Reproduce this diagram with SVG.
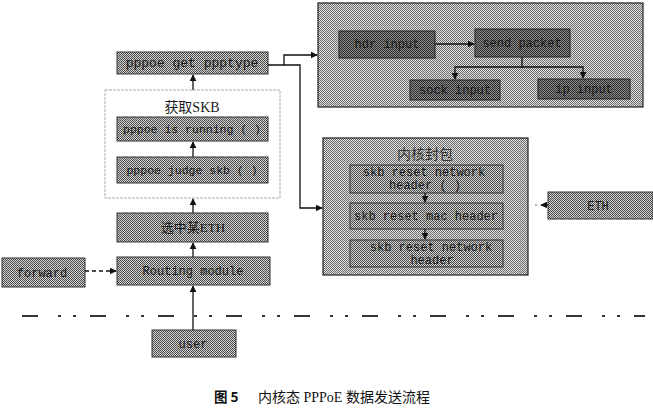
<svg xmlns="http://www.w3.org/2000/svg" width="653" height="411" viewBox="0 0 653 411">
<defs>
<pattern id="pMid" width="2" height="2" patternUnits="userSpaceOnUse">
<rect width="2" height="2" fill="#d4d4d4"/>
<rect x="0" y="0" width="1" height="1" fill="#4a4a4a"/>
<rect x="1" y="1" width="1" height="1" fill="#4a4a4a"/>
</pattern>
<pattern id="pLight" width="2" height="2" patternUnits="userSpaceOnUse">
<rect width="2" height="2" fill="#e2e2e2"/>
<rect x="0" y="0" width="1" height="1" fill="#6a6a6a"/>
<rect x="1" y="1" width="1" height="1" fill="#6a6a6a"/>
</pattern>
<pattern id="pDark" width="2" height="2" patternUnits="userSpaceOnUse">
<rect width="2" height="2" fill="#8a8a8a"/>
<rect x="0" y="0" width="1" height="1" fill="#2e2e2e"/>
<rect x="1" y="1" width="1" height="1" fill="#2e2e2e"/>
</pattern>
<marker id="ah" viewBox="0 0 10 10" refX="9" refY="5" markerWidth="7" markerHeight="7" orient="auto" markerUnits="userSpaceOnUse">
<path d="M0,0 L10,5 L0,10 z" fill="#111"/>
</marker>
<style>
.box{fill:url(#pMid);stroke:#333;stroke-width:1}
.panel{fill:url(#pLight);stroke:#222;stroke-width:1.2}
.dbox{fill:url(#pDark);stroke:#222;stroke-width:1}
.ibox{fill:url(#pMid);stroke:#333;stroke-width:1}
.t{font-family:"Liberation Mono",monospace;font-size:12px;fill:#1a1a1a;text-anchor:middle}
.ts{font-family:"Liberation Serif","Noto Sans CJK SC",serif;font-size:14px;fill:#1a1a1a;text-anchor:middle}
.c{fill:none;stroke:#111;stroke-width:1.3}
</style>
</defs>
<rect width="653" height="411" fill="#fff"/>

<g id="skb-group">
<rect x="105" y="90" width="175" height="108" fill="#fff" stroke="#aaa" stroke-width="1" stroke-dasharray="3 1"/>
<text class="ts" x="192" y="112">获取SKB</text>
</g>
<g id="pppoe-get-ppptype">
<rect class="box" x="117" y="52" width="151" height="22"/>
<text class="t" x="192" y="67" style="font-size:13px">pppoe get ppptype</text>
</g>
<g id="pppoe-is-running">
<rect class="box" x="117" y="117" width="151" height="24"/>
<text class="t" x="192" y="133" style="font-size:11.5px">pppoe is running ( )</text>
</g>
<g id="pppoe-judge-skb">
<rect class="box" x="117" y="157" width="151" height="26"/>
<text class="t" x="192" y="174" style="font-size:11.5px">pppoe judge skb ( )</text>
</g>
<g id="select-eth">
<rect class="box" x="117" y="213" width="151" height="29"/>
<text class="ts" x="193" y="232" style="font-size:13px">选中某ETH</text>
</g>
<g id="routing-module">
<rect class="box" x="117" y="257" width="153" height="28"/>
<text class="t" x="193" y="275">Routing module</text>
</g>
<g id="forward">
<rect class="box" x="2" y="258" width="83" height="29"/>
<text class="t" x="42" y="277">forward</text>
</g>
<g id="user">
<rect class="box" x="152" y="330" width="84" height="27"/>
<text class="t" x="193" y="348">user</text>
</g>

<g id="top-panel">
<rect class="panel" x="318" y="3" width="325" height="104"/>
</g>
<g id="hdr-input">
<rect class="dbox" x="339" y="31" width="96" height="27"/>
<text class="t" x="387" y="48">hdr input</text>
</g>
<g id="send-packet">
<rect class="dbox" x="475" y="29" width="95" height="28"/>
<text class="t" x="522" y="47">send packet</text>
</g>
<g id="sock-input">
<rect class="dbox" x="410" y="80" width="90" height="20"/>
<text class="t" x="455" y="94">sock input</text>
</g>
<g id="ip-input">
<rect class="dbox" x="538" y="79" width="92" height="20"/>
<text class="t" x="584" y="93">ip input</text>
</g>

<g id="kernel-panel">
<rect class="panel" x="323" y="138" width="205" height="137"/>
<text class="ts" x="425" y="159" style="fill:#333">内核封包</text>
</g>
<g id="skb-reset-network-header-1">
<rect class="ibox" x="350" y="165" width="153" height="28"/>
<text class="t" x="424" y="176">skb reset network</text>
<text class="t" x="425" y="189">header ( )</text>
</g>
<g id="skb-reset-mac-header">
<rect class="ibox" x="350" y="203" width="153" height="26"/>
<text class="t" x="426" y="220">skb reset mac header</text>
</g>
<g id="skb-reset-network-header-2">
<rect class="ibox" x="350" y="240" width="153" height="27"/>
<text class="t" x="431" y="251">skb reset network</text>
<text class="t" x="432" y="264">header</text>
</g>
<g id="eth">
<rect class="box" x="548" y="192" width="105" height="27"/>
<text class="t" x="598" y="210">ETH</text>
</g>

<g id="connectors">
<line class="c" x1="193" y1="90" x2="193" y2="75" marker-end="url(#ah)"/>
<line class="c" x1="193" y1="157" x2="193" y2="142" marker-end="url(#ah)"/>
<line class="c" x1="193" y1="213" x2="193" y2="199" marker-end="url(#ah)"/>
<line class="c" x1="193" y1="257" x2="193" y2="243" marker-end="url(#ah)"/>
<line class="c" x1="193" y1="330" x2="193" y2="286" stroke-width="1.6" marker-end="url(#ah)"/>
<line class="c" x1="85" y1="271" x2="116" y2="271" stroke-dasharray="4 3" marker-end="url(#ah)"/>
<polyline class="c" points="268,65 284,65 284,55 317,55" stroke-width="1.6" marker-end="url(#ah)"/>
<polyline class="c" points="284,65 300,65 300,208 322,208" stroke-width="1.6" marker-end="url(#ah)"/>
<line class="c" x1="435" y1="44" x2="474" y2="44" marker-end="url(#ah)"/>
<polyline class="c" points="522,57 522,67 455,67 455,79" marker-end="url(#ah)"/>
<polyline class="c" points="522,67 583,67 583,78" marker-end="url(#ah)"/>
<line class="c" x1="425" y1="193" x2="425" y2="202" stroke-width="1" marker-end="url(#ah)"/>
<line class="c" x1="425" y1="229" x2="425" y2="239" stroke-width="1" marker-end="url(#ah)"/>
<line class="c" x1="548" y1="205" x2="541" y2="205" stroke-width="1" marker-end="url(#ah)"/>
<circle cx="536" cy="205" r="0.8" fill="#555"/>
</g>

<line x1="22" y1="316" x2="645" y2="316" stroke="#333" stroke-width="2" stroke-dasharray="16 20 3 12 3 14"/>

<text x="214" y="402" style="font-family:'Noto Sans CJK SC',sans-serif;font-size:13.5px;font-weight:bold;fill:#111">图 5</text>
<text x="258" y="402" style="font-family:'Liberation Serif','Noto Sans CJK SC',serif;font-size:14px;fill:#111">内核态 PPPoE 数据发送流程</text>
</svg>
